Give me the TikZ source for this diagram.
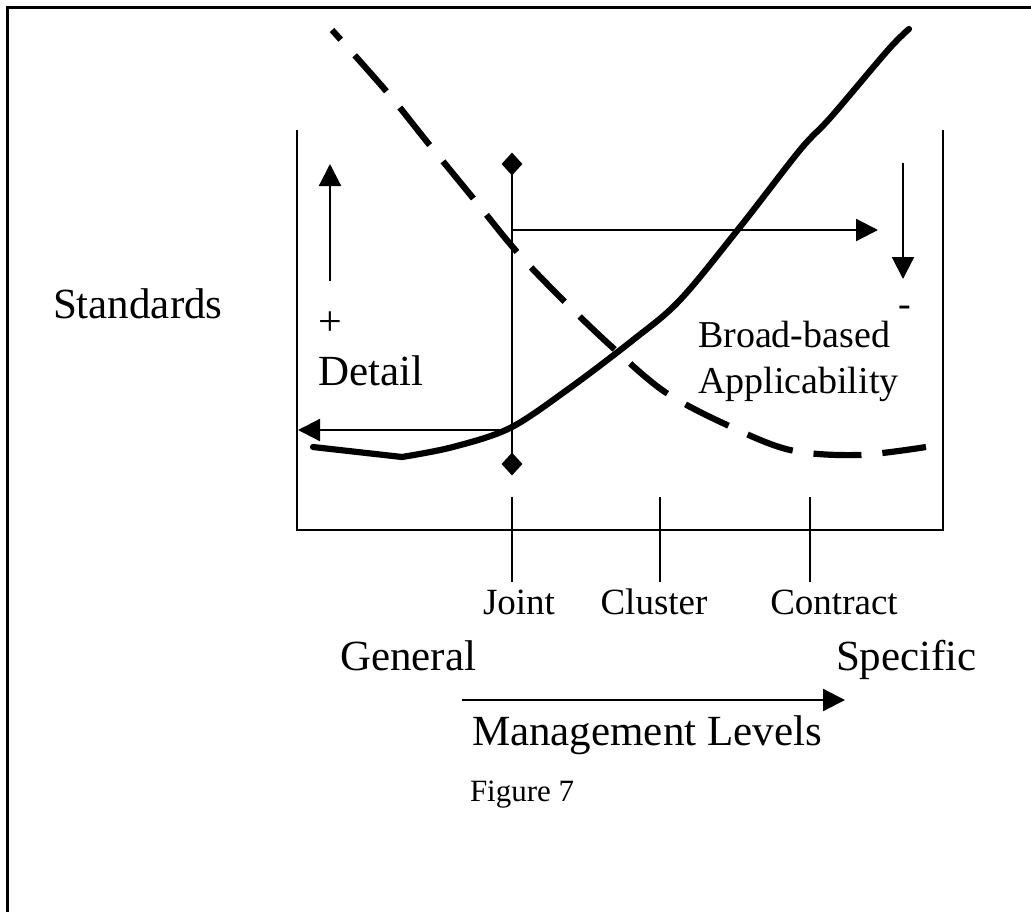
\documentclass[tikz,border=0pt]{standalone}
\usepackage{fontspec}
\setmainfont{Liberation Serif}
\usetikzlibrary{arrows.meta,shapes.geometric}
\tikzset{
  lbl/.style={inner sep=0pt, outer sep=0pt},
  big/.style={lbl, font=\fontsize{43}{48}\selectfont},
  mid/.style={lbl, font=\fontsize{38}{44}\selectfont},
  tick/.style={lbl, font=\fontsize{37}{42}\selectfont},
  small/.style={lbl, font=\fontsize{31}{36}\selectfont},
  boxline/.style={line width=2.5pt},
  arr/.style={line width=2.2pt, -{Triangle[length=22pt,width=22pt]}},
  dia/.style={diamond, fill=black, draw=none, minimum width=21pt, minimum height=23pt, inner sep=0pt},
  thick curve/.style={line width=6.2pt, line cap=round, line join=round},
  dash curve/.style={line width=6.2pt, dash pattern=on 48pt off 21pt, dash phase=35pt},
}
\begin{document}
\begin{tikzpicture}[x=1pt,y=-1pt]
\useasboundingbox (0,0) rectangle (1031,911);
\fill[white] (0,0) rectangle (1031,911);
% outer frame (left and top edges visible)
\coordinate (fbl) at (7,920);
\coordinate (ftl) at (7,7);
\coordinate (ftr) at (1040,7);
\draw[line width=3pt] (fbl) -- (ftl) -- (ftr);
% U box
\coordinate (bl) at (297,130);
\coordinate (bbl) at (297,530);
\coordinate (bbr) at (943,530);
\coordinate (br) at (943,130);
\draw[boxline] (bl) -- (bbl) -- (bbr) -- (br);
% ticks
\coordinate (t1a) at (512,497); \coordinate (t1b) at (512,582);
\coordinate (t2a) at (660,497); \coordinate (t2b) at (660,582);
\coordinate (t3a) at (810,497); \coordinate (t3b) at (810,582);
\draw[boxline] (t1a) -- (t1b);
\draw[boxline] (t2a) -- (t2b);
\draw[boxline] (t3a) -- (t3b);
% diamond line
\node[dia] (dtop) at (512,164) {};
\node[dia] (dbot) at (512,464) {};
\draw[boxline] (dtop.center) -- (dbot.center);
% arrows
\coordinate (hA) at (512,230); \coordinate (hB) at (878,230);
\draw[arr] (hA) -- (hB);
\coordinate (lA) at (512,430); \coordinate (lB) at (298,430);
\draw[arr] (lA) -- (lB);
\coordinate (uA) at (330,281); \coordinate (uB) at (330,164);
\draw[arr] (uA) -- (uB);
\coordinate (dA) at (903,163); \coordinate (dB) at (903,279);
\draw[arr] (dA) -- (dB);
\coordinate (mA) at (462,700); \coordinate (mB) at (845,700);
\draw[arr] (mA) -- (mB);
% solid curve
\draw[thick curve] (313,447) -- (402,457)
  plot[smooth, tension=0.55] coordinates {(402,457) (453,447) (510,428) (567,390) (633,340) (680,300) (740,227) (800,150) (831,117) (888,50) (909,29)};
% dashed curve
\draw[dash curve]
  plot[smooth, tension=0.55] coordinates {(332,30) (387,92) (428,143) (473,198) (517,252) (563,300) (612,347) (665,392) (727,425) (790,450) (858,455) (926,447)};
% labels
\node[big, anchor=base west] (standards) at (53,318) {Standards};
\node[lbl, font=\fontsize{42}{46}\selectfont, anchor=center] (plus) at (330,324) {+};
\node[big, anchor=base west] (detail) at (318,385) {Detail};
\node[mid, anchor=base west] (broad) at (698,347) {Broad-based};
\node[mid, anchor=base west] (appl) at (698,393) {Applicability};
\node[mid, anchor=base west] (minus) at (898,316) {-};
\node[tick, anchor=base] (joint) at (519,614) {Joint};
\node[tick, anchor=base] (cluster) at (654,614) {Cluster};
\node[tick, anchor=base] (contract) at (834,614) {Contract};
\node[big, anchor=base west] (general) at (340,670) {General};
\node[big, anchor=base west] (specific) at (836,670) {Specific};
\node[big, anchor=base west] (mgmt) at (472,745) {Management Levels};
\node[small, anchor=base west] (fig) at (470,801) {Figure 7};
\end{tikzpicture}
\end{document}
